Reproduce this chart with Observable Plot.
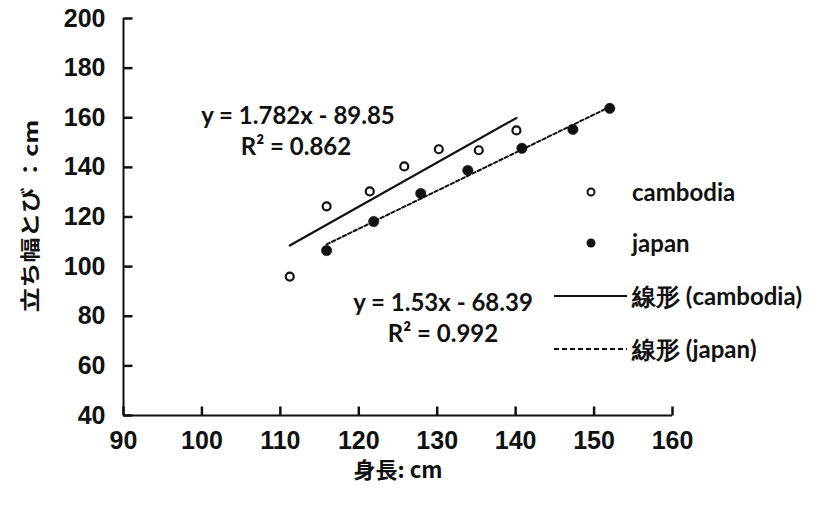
<!DOCTYPE html>
<html>
<head>
<meta charset="utf-8">
<script src="https://cdn.jsdelivr.net/npm/d3@7"></script>
<script src="https://cdn.jsdelivr.net/npm/@observablehq/plot@0.6"></script>
<style>
  html, body { margin: 0; padding: 0; background: #fff; }
  #wrap { position: relative; width: 815px; height: 512px; }
  .ov { position: absolute; font-family: Lato, "Open Sans", sans-serif; font-size: 24px; font-weight: 700; color: #111; white-space: nowrap; line-height: 1; }
  .eq { text-align: center; transform: translateX(-50%); }
  .axlab { position: absolute; font-family: "Noto Sans CJK JP", sans-serif; font-weight: 700; font-size: 22px; color: #111; white-space: nowrap; line-height: 1; }
</style>
</head>
<body>
<div id="wrap"></div>
<script>
// Data
const cambodiaHeight = [111.2, 115.9, 121.4, 125.8, 130.2, 135.3, 140.1];
const cambodiaJump   = [96.0, 124.3, 130.3, 140.4, 147.3, 146.9, 154.9];
const japanHeight    = [115.9, 121.9, 127.9, 133.9, 140.8, 147.3, 152.0];
const japanJump      = [106.5, 118.2, 129.5, 138.8, 147.7, 155.3, 163.8];
const xTicks = [90, 100, 110, 120, 130, 140, 150, 160];
const yTicks = [40, 60, 80, 100, 120, 140, 160, 180, 200];
const eqCambodia = ["y = 1.782x - 89.85", "R² = 0.862"];
const eqJapan = ["y = 1.53x - 68.39", "R² = 0.992"];
const legendLabels = ["cambodia", "japan", "線形 (cambodia)", "線形 (japan)"];
const xLabel = "身長: cm";
const yLabel = "立ち幅とび ：cm";

const cambodia = cambodiaHeight.map((h, i) => ({x: h, y: cambodiaJump[i]}));
const japan = japanHeight.map((h, i) => ({x: h, y: japanJump[i]}));

const tickFont = '"Liberation Sans Narrow", "Arial Narrow", "Liberation Sans", sans-serif';
const xMin = xTicks[0], xMax = xTicks[xTicks.length - 1];
const yMin = yTicks[0], yMax = yTicks[yTicks.length - 1];

const W = 815, H = 512, mL = 123, mR = 143, mT = 18, mB = 97;
const tickLen = 9;
const frameW = W - mL - mR, frameH = H - mT - mB;
// tick length expressed in data units
const tickDX = tickLen * (xMax - xMin) / frameW;
const tickDY = tickLen * (yMax - yMin) / frameH;
const xTickRows = xTicks.map(v => ({x: v, y1: yMin, y2: yMin + tickDY}));
const yTickRows = yTicks.map(v => ({y: v, x1: xMin, x2: xMin + tickDX}));

const chart = Plot.plot({
  width: W,
  height: H,
  marginLeft: mL,
  marginRight: mR,
  marginTop: mT,
  marginBottom: mB,
  style: {fontFamily: tickFont, fontSize: "25px", fontWeight: "bold", color: "#111", background: "white"},
  x: {domain: [xMin, xMax]},
  y: {domain: [yMin, yMax]},
  marks: [
    // tick labels
    Plot.axisX({ticks: xTicks, tickSize: 0, tickPadding: 16, label: null, fontSize: 25}),
    Plot.axisY({ticks: yTicks, tickSize: 0, tickPadding: 18, label: null, fontSize: 25}),
    // axis lines
    Plot.ruleY([yMin], {stroke: "#111", strokeWidth: 2}),
    Plot.ruleX([xMin], {stroke: "#111", strokeWidth: 2}),
    Plot.linearRegressionY(cambodia, {x: "x", y: "y", stroke: "#111", strokeWidth: 2.2, ci: 0}),
    Plot.linearRegressionY(japan, {x: "x", y: "y", stroke: "#111", strokeWidth: 2, strokeDasharray: "3.5,2.5", ci: 0}),
    Plot.dot(cambodia, {x: "x", y: "y", r: 4, stroke: "#111", strokeWidth: 2.2, fill: "white"}),
    Plot.dot(japan, {x: "x", y: "y", r: 5.2, fill: "#111", stroke: "#111", strokeWidth: 0.5}),
    // inward tick marks
    Plot.link(xTickRows, {x1: "x", x2: "x", y1: "y1", y2: "y2", stroke: "#111", strokeWidth: 2.5}),
    Plot.link(yTickRows, {y1: "y", y2: "y", x1: "x1", x2: "x2", stroke: "#111", strokeWidth: 2.5})
  ]
});

const wrap = document.getElementById("wrap");
wrap.appendChild(chart);

function addDiv(cls, text, style) {
  const d = document.createElement("div");
  d.className = cls;
  d.textContent = text;
  Object.assign(d.style, style);
  wrap.appendChild(d);
  return d;
}
// Equation annotations
addDiv("ov eq", eqCambodia[0], {left: "298px", top: "103px"});
addDiv("ov eq", eqCambodia[1], {left: "296px", top: "134px"});
addDiv("ov eq", eqJapan[0], {left: "443px", top: "290px"});
addDiv("ov eq", eqJapan[1], {left: "443px", top: "321px"});

// Legend
const legendTops = [180, 231, 284, 337];
legendLabels.forEach((t, i) => addDiv("ov", t, {left: "632px", top: legendTops[i] + "px"}));
const ns = "http://www.w3.org/2000/svg";
const lsvg = document.createElementNS(ns, "svg");
lsvg.setAttribute("width", W); lsvg.setAttribute("height", H);
lsvg.style.position = "absolute"; lsvg.style.left = "0"; lsvg.style.top = "0"; lsvg.style.pointerEvents = "none";
function el(name, attrs) { const e = document.createElementNS(ns, name); for (const k in attrs) e.setAttribute(k, attrs[k]); lsvg.appendChild(e); }
el("circle", {cx: 591, cy: 192, r: 3.5, fill: "white", stroke: "#111", "stroke-width": 2});
el("circle", {cx: 591, cy: 243, r: 4.5, fill: "#111"});
el("line", {x1: 554, x2: 627, y1: 296, y2: 296, stroke: "#111", "stroke-width": 2});
el("line", {x1: 554, x2: 627, y1: 349, y2: 349, stroke: "#111", "stroke-width": 1.8, "stroke-dasharray": "5,3"});
wrap.appendChild(lsvg);

// Axis titles
addDiv("axlab", xLabel, {left: "398px", top: "457px", transform: "translateX(-50%)"});
addDiv("axlab", yLabel, {left: "30px", top: "216px", fontSize: "20px", transform: "translate(-50%, -50%) rotate(-90deg) scaleX(1.25)"});
</script>
</body>
</html>
